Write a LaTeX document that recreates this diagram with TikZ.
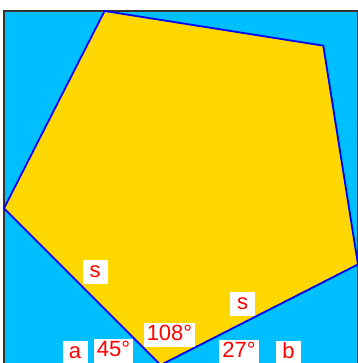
\documentclass[tikz,border=0pt]{standalone}
\usepackage{fontspec}
\setmainfont{Liberation Sans}
\definecolor{skyblue}{HTML}{00BFFF}
\definecolor{gold}{HTML}{FFD700}
\newcommand{\labelfont}{\fontsize{22}{25}\selectfont}
\begin{document}
\begin{tikzpicture}
[x=1pt,y=1pt,
  boxdecorate/.style={fill=skyblue,draw=black!80,line width=1.5pt},%
  pentadecorate/.style={fill=gold,draw=blue,line width=1.8pt,line join=miter},%
  labeldecorate/.style={fill=white,text=red,font=\labelfont,inner xsep=3pt,
    inner ysep=1.5pt,text height=16pt,text depth=5pt,minimum width=25pt}]
\useasboundingbox (0,0) rectangle (357,363);
%% square
\draw[boxdecorate] (4,-2) rectangle (358,352);
%% pentagon vertices
\coordinate (B) at (160.6,-2);
\path (B) ++(27:221.5) coordinate (R) ++(99:221.5) coordinate (RT)
  ++(171:221.5) coordinate (T) ++(243:221.5) coordinate (L);
%% pentagon
\draw[pentadecorate] (B) -- (R) -- (RT) -- (T) -- (L) -- cycle;
%% labels
\foreach \nodename/\nodelabel/\x/\y in {
  sleft/s/95/90.5, sright/s/242.5/59, apex/108°/169.5/28.3,
  a/a/75/10.3, alpha/45°/113.5/11.7, beta/27°/239/11, b/b/288.5/10.3} {
  \node (\nodename) at (\x,\y) [labeldecorate] {\nodelabel};
}
\end{tikzpicture}
\end{document}
